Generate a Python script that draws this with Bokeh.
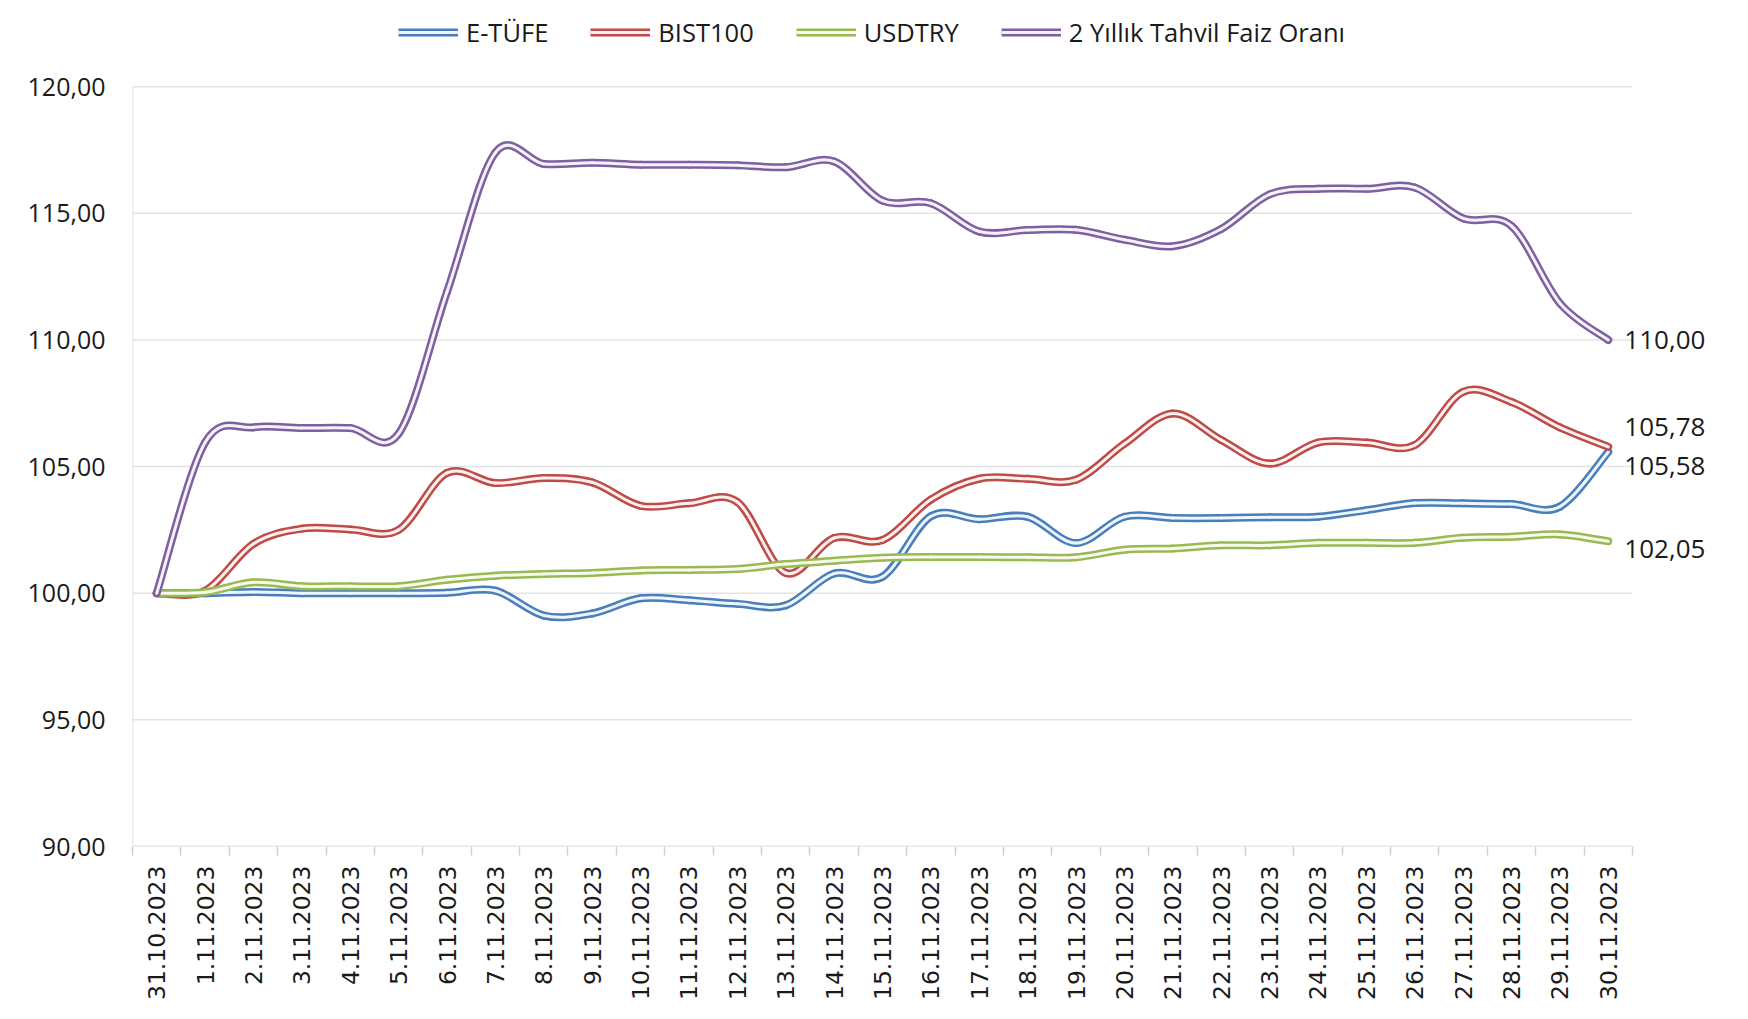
import math
from bokeh.plotting import figure
from bokeh.models import FixedTicker, Legend, LegendItem, ColumnDataSource, Range1d
from bokeh.core.properties import value
from bokeh.embed import file_html
from bokeh.resources import INLINE

# ---------------- data ----------------
dates = ["31.10.2023", "1.11.2023", "2.11.2023", "3.11.2023", "4.11.2023", "5.11.2023",
         "6.11.2023", "7.11.2023", "8.11.2023", "9.11.2023", "10.11.2023", "11.11.2023",
         "12.11.2023", "13.11.2023", "14.11.2023", "15.11.2023", "16.11.2023", "17.11.2023",
         "18.11.2023", "19.11.2023", "20.11.2023", "21.11.2023", "22.11.2023", "23.11.2023",
         "24.11.2023", "25.11.2023", "26.11.2023", "27.11.2023", "28.11.2023", "29.11.2023",
         "30.11.2023"]

etufe = [100.00, 100.00, 100.05, 100.00, 100.00, 100.00, 100.02, 100.10, 99.12, 99.20,
         99.80, 99.72, 99.58, 99.52, 100.78, 100.65, 103.04, 102.92, 103.02, 101.98,
         103.02, 102.97, 102.97, 103.00, 103.02, 103.28, 103.56, 103.55, 103.52, 103.42,
         105.58]

bist100 = [100.00, 100.10, 101.95, 102.55, 102.52, 102.50, 104.75, 104.35, 104.55, 104.38,
           103.45, 103.55, 103.60, 100.80, 102.18, 102.10, 103.70, 104.52, 104.52, 104.48,
           105.90, 107.10, 106.05, 105.12, 105.95, 105.95, 105.85, 107.95, 107.55, 106.55,
           105.78]

usdtry = [100.00, 100.04, 100.43, 100.28, 100.28, 100.28, 100.53, 100.69, 100.76, 100.80,
          100.90, 100.92, 100.96, 101.15, 101.28, 101.40, 101.43, 101.43, 101.42, 101.42,
          101.72, 101.77, 101.89, 101.89, 101.99, 101.99, 101.99, 102.19, 102.23, 102.32,
          102.05]

tahvil = [100.00, 105.95, 106.55, 106.52, 106.52, 106.30, 111.90, 117.40, 116.95, 117.00,
          116.92, 116.92, 116.90, 116.82, 117.05, 115.50, 115.40, 114.28, 114.34, 114.35,
          113.96, 113.70, 114.38, 115.75, 115.97, 115.97, 116.02, 114.80, 114.50, 111.45,
          110.00]

series_names = ["E-TÜFE", "BIST100", "USDTRY", "2 Yıllık Tahvil Faiz Oranı"]
series_values = [etufe, bist100, usdtry, tahvil]

y_ticks = [90, 95, 100, 105, 110, 115, 120]

# ---------------- style / layout ----------------
outer_colors = ["#4A7EBB", "#BE4B48", "#98B954", "#7D60A0"]
inner_colors = ["#eef6fd", "#fdf0ef", "#f8fbec", "#f5f1fa"]
end_label_offsets = [14, -20, 8, 0]   # screen px (E-TÜFE, BIST100, USDTRY, Tahvil)

FIG_W, FIG_H = 1732, 1003
B_LEFT, B_RIGHT, B_TOP, B_BOTTOM = 132, 4, 2, 149
PLOT_TOP_Y = 87        # figure-pixel y of the 120 line
PLOT_RIGHT_X = 1632    # figure-pixel x of the right edge of the plotting area
LEGEND_X = 266         # legend left, relative to plotting area
LEGEND_BOTTOM_Y = 57   # figure-pixel y of the legend's bottom edge

frame_w = FIG_W - B_LEFT - B_RIGHT
frame_h = FIG_H - B_TOP - B_BOTTOM
n = len(dates)
x_lo, x_hi = -0.5, n - 0.5
y_lo, y_hi = y_ticks[0], y_ticks[-1]
px_per_cat = (PLOT_RIGHT_X - B_LEFT) / (x_hi - x_lo)
px_per_unit = (FIG_H - B_BOTTOM - PLOT_TOP_Y) / (y_hi - y_lo)
x_end = x_lo + frame_w / px_per_cat
y_end = y_lo + frame_h / px_per_unit


def fmt(v):
    return f"{v:.2f}".replace(".", ",")


def bezier_source(vals):
    m = len(vals)
    xs = list(range(m))
    ev = [vals[0]] + list(vals) + [vals[-1]]
    ex = [xs[0]] + xs + [xs[-1]]
    d = dict(x0=[], y0=[], x1=[], y1=[], cx0=[], cy0=[], cx1=[], cy1=[])
    for i in range(m - 1):
        d["x0"].append(xs[i]); d["y0"].append(vals[i])
        d["x1"].append(xs[i + 1]); d["y1"].append(vals[i + 1])
        d["cx0"].append(xs[i] + (ex[i + 2] - ex[i]) / 6.0)
        d["cy0"].append(vals[i] + (ev[i + 2] - ev[i]) / 6.0)
        d["cx1"].append(xs[i + 1] - (ex[i + 3] - ex[i + 1]) / 6.0)
        d["cy1"].append(vals[i + 1] - (ev[i + 3] - ev[i + 1]) / 6.0)
    return ColumnDataSource(d)


p = figure(width=FIG_W, height=FIG_H,
           x_range=Range1d(x_lo, x_end), y_range=Range1d(y_lo, y_end),
           output_backend="svg", toolbar_location=None,
           min_border_left=B_LEFT, min_border_right=B_RIGHT,
           min_border_top=B_TOP, min_border_bottom=B_BOTTOM)
p.outline_line_color = None
p.background_fill_color = "white"
p.border_fill_color = "white"
p.xgrid.visible = False
p.ygrid.visible = False

# gridlines limited to the plotting area
grid_y = y_ticks[1:]
p.segment(x0=[x_lo] * len(grid_y), x1=[x_hi] * len(grid_y), y0=grid_y, y1=grid_y,
          line_color="#e3e3e3", line_width=1.5)
# axis lines
p.segment(x0=[x_lo], x1=[x_hi], y0=[y_lo], y1=[y_lo], line_color="#d0d0d0", line_width=1.5)
p.segment(x0=[x_lo], x1=[x_lo], y0=[y_lo], y1=[y_hi], line_color="#d9d9d9", line_width=1.5)

# x axis
xa = p.xaxis[0]
xa.ticker = FixedTicker(ticks=list(range(n)),
                        minor_ticks=[i - 0.5 for i in range(n + 1)])
xa.major_label_overrides = {i: d for i, d in enumerate(dates)}
xa.major_label_orientation = math.pi / 2
xa.major_tick_out = 0
xa.major_tick_in = 0
xa.minor_tick_out = 9
xa.minor_tick_in = 0
xa.minor_tick_line_color = "#d0d0d0"
xa.minor_tick_line_width = 1.5
xa.axis_line_color = None
xa.major_label_text_font = "DejaVu Sans"
xa.major_label_text_font_size = "23.5px"
xa.major_label_text_color = "#1a1a1a"
xa.major_label_standoff = 10

# y axis
ya = p.yaxis[0]
ya.ticker = FixedTicker(ticks=y_ticks)
ya.major_label_overrides = {t: fmt(t) for t in y_ticks}
ya.major_tick_out = 0
ya.major_tick_in = 0
ya.minor_tick_out = 0
ya.minor_tick_in = 0
ya.axis_line_color = None
ya.major_label_text_font = "Open Sans"
ya.major_label_text_font_size = "25px"
ya.major_label_text_color = "#1a1a1a"
ya.major_label_standoff = 27

# series (double-stroke smoothed lines)
items = []
for name, vals, oc, ic in zip(series_names, series_values, outer_colors, inner_colors):
    src = bezier_source(vals)
    p.bezier(x0="x0", y0="y0", x1="x1", y1="y1", cx0="cx0", cy0="cy0", cx1="cx1", cy1="cy1",
             source=src, line_color=oc, line_width=8, line_cap="round")
    p.bezier(x0="x0", y0="y0", x1="x1", y1="y1", cx0="cx0", cy0="cy0", cx1="cx1", cy1="cy1",
             source=src, line_color=ic, line_width=3, line_cap="round")
    lo = p.line(x=[0], y=[vals[0]], line_color=oc, line_width=8)
    li = p.line(x=[0], y=[vals[0]], line_color=ic, line_width=3)
    items.append(LegendItem(label=name, renderers=[lo, li]))

# end labels
last_x = [n - 1] * len(series_values)
last_y = [vals[-1] for vals in series_values]
p.text(x=last_x, y=last_y, text=[fmt(v) for v in last_y],
       x_offset=16, y_offset=end_label_offsets,
       text_baseline="middle", text_align="left",
       text_font=value("Open Sans"), text_font_size="26px", text_color="#1a1a1a")

legend = Legend(items=items, orientation="horizontal",
                location=(LEGEND_X, frame_h - (LEGEND_BOTTOM_Y - B_TOP)),
                glyph_width=60, glyph_height=20, label_standoff=8, spacing=42,
                padding=0, margin=0, border_line_alpha=0, background_fill_alpha=0,
                label_text_font="Open Sans", label_text_font_size="25.5px",
                label_text_color="#1a1a1a", label_height=28)
p.add_layout(legend, "center")

open("out.html", "w").write(file_html(p, INLINE))
